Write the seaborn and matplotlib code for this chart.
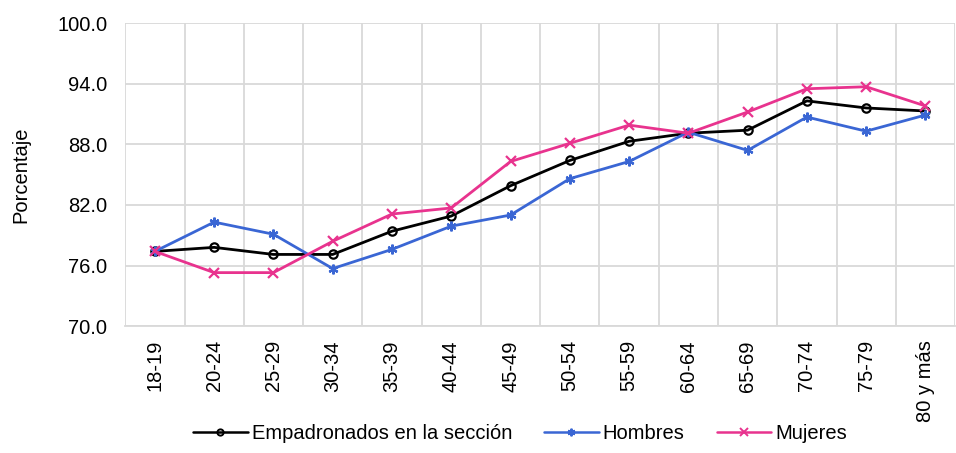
import matplotlib.pyplot as plt
import pandas as pd
import seaborn as sns
from matplotlib.lines import Line2D
from matplotlib.ticker import FixedLocator, FormatStrFormatter

# data
age_groups = ["18-19", "20-24", "25-29", "30-34", "35-39", "40-44", "45-49",
              "50-54", "55-59", "60-64", "65-69", "70-74", "75-79", "80 y más"]
empadronados = [77.4, 77.8, 77.1, 77.1, 79.4, 80.9, 83.9, 86.4, 88.3, 89.1, 89.4, 92.3, 91.6, 91.3]
hombres = [77.4, 80.3, 79.1, 75.7, 77.6, 79.9, 81.0, 84.6, 86.3, 89.2, 87.4, 90.7, 89.3, 90.9]
mujeres = [77.4, 75.3, 75.3, 78.4, 81.1, 81.7, 86.3, 88.1, 89.9, 89.1, 91.2, 93.5, 93.7, 91.8]

series_names = ["Empadronados en la sección", "Hombres", "Mujeres"]
series_colors = ["#000000", "#3A66D4", "#E8338E"]

df = pd.DataFrame({
    "edad": age_groups * 3,
    "valor": empadronados + hombres + mujeres,
    "serie": [s for s in series_names for _ in age_groups],
})

sns.set_theme(style="white")
plt.rcParams["font.family"] = ["Liberation Sans", "DejaVu Sans"]
plt.rcParams.update({"text.color": "black", "xtick.color": "black", "ytick.color": "black",
                     "axes.labelcolor": "black"})

fig, ax = plt.subplots(figsize=(9.56, 4.53), dpi=100)
fig.subplots_adjust(left=0.131, right=0.999, top=0.949, bottom=0.28)

markers = {"Empadronados en la sección": "o", "Hombres": (6, 2, 0), "Mujeres": "x"}
legend_handles = []
for name, color in zip(series_names, series_colors):
    sub = df[df["serie"] == name]
    m = markers[name]
    face = "none" if m == "o" else color
    sns.lineplot(
        data=sub, x="edad", y="valor", ax=ax, color=color, linewidth=2,
        marker=m, markersize=6 if m == "o" else 7,
        markerfacecolor=face, markeredgecolor=color, markeredgewidth=1.6,
        legend=False,
    )
    legend_handles.append(Line2D([], [], color=color, linewidth=1.8, marker=m,
                                markersize=4.5 if m == "o" else 5.5,
                                markerfacecolor=face, markeredgecolor=color,
                                markeredgewidth=1.4))

n = len(age_groups)
ax.set_xlim(-0.5, n - 0.5)
ax.set_ylim(70, 100)
ax.set_yticks([70, 76, 82, 88, 94, 100])
ax.yaxis.set_major_formatter(FormatStrFormatter("%.1f"))
ax.xaxis.set_minor_locator(FixedLocator([i - 0.5 for i in range(n + 1)]))
ax.grid(axis="y", which="major", color="#D9D9D9", linewidth=1.3)
ax.grid(axis="x", which="minor", color="#D9D9D9", linewidth=1.3)
ax.set_axisbelow(True)
for spine in ax.spines.values():
    spine.set_visible(False)
ax.spines["bottom"].set_visible(True)
ax.spines["bottom"].set_color("#D9D9D9")
ax.spines["bottom"].set_linewidth(1.3)

ax.tick_params(axis="x", rotation=90, labelsize=14.5, length=0, pad=10)
ax.tick_params(axis="y", labelsize=14.5, length=0, pad=13)
ax.set_xlabel("")
ax.set_ylabel("Porcentaje", fontsize=14.5, labelpad=19)

fig.legend(legend_handles, series_names, loc="lower center", bbox_to_anchor=(0.544, -0.018),
           ncol=3, frameon=False, fontsize=14.5, handlelength=2.7, columnspacing=1.6,
           handletextpad=0.2)

fig.savefig("out.png", dpi=100)
